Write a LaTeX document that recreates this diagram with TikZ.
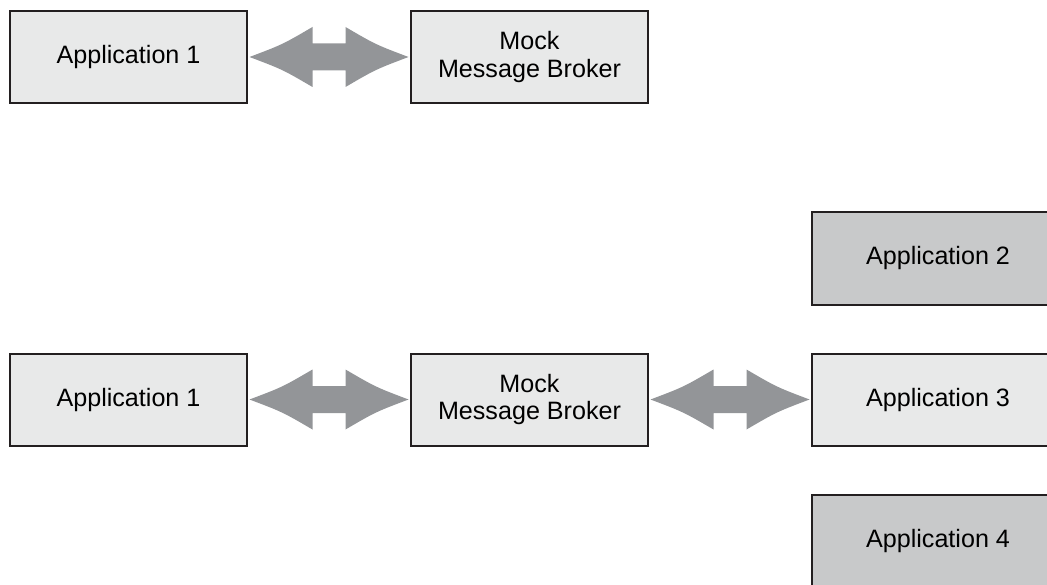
\documentclass[tikz,border=0pt]{standalone}
\usepackage{fontspec}
\setmainfont{Liberation Sans}
\usetikzlibrary{positioning, calc}
\definecolor{boxlight}{RGB}{232,233,233}
\definecolor{boxdark}{RGB}{200,201,202}
\definecolor{arrowgray}{RGB}{147,149,152}
\definecolor{edgeblack}{RGB}{35,31,32}

\begin{document}
\begin{tikzpicture}[
  node distance=0.88cm and 3.18cm,
  app/.style={draw=edgeblack, line width=0.04cm, fill=boxlight, outer sep=0.05cm,
    minimum width=4.74cm, minimum height=1.84cm, align=center,
    font=\fontsize{14.3}{15.6}\selectfont},
  appwide/.style={app, minimum width=5.04cm},
  appdark/.style={appwide, fill=boxdark},
  fatarrow/.style={fill=arrowgray, draw=none, to path={
    (\tikztostart)
    .. controls ($(\tikztostart)+(0.66,0.25)$) .. ($(\tikztostart)+(1.26,0.6)$)
    -- ($(\tikztostart)+(1.26,0.27)$)
    -- ($(\tikztotarget)+(-1.26,0.27)$)
    -- ($(\tikztotarget)+(-1.26,0.6)$)
    .. controls ($(\tikztotarget)+(-0.66,0.25)$) .. (\tikztotarget)
    .. controls ($(\tikztotarget)+(-0.66,-0.25)$) .. ($(\tikztotarget)+(-1.26,-0.6)$)
    -- ($(\tikztotarget)+(-1.26,-0.27)$)
    -- ($(\tikztostart)+(1.26,-0.27)$)
    -- ($(\tikztostart)+(1.26,-0.6)$)
    .. controls ($(\tikztostart)+(0.66,-0.25)$) .. (\tikztostart) -- cycle}}]
  \useasboundingbox (0,0) rectangle (20.94,-11.7);
  \clip (0,0) rectangle (20.94,-11.7);

  % single application against the mock
  \node[app] (a1) at (2.57,-1.14) {Application 1};
  \node[app, right=of a1] (mb) {Mock\\Message Broker};
  \path[fatarrow] (a1.east) to (mb.west);

  % several applications against the mock
  \node[app] (b1) at (2.57,-7.99) {Application 1};
  \node[app, right=of b1] (bm) {Mock\\Message Broker};
  \node[appwide, right=of bm] (b3) {Application 3};
  \node[appdark, above=of b3] (b2) {Application 2};
  \node[appdark, below=of b3] (b4) {Application 4};
  \path[fatarrow] (b1.east) to (bm.west);
  \path[fatarrow] (bm.east) to (b3.west);
\end{tikzpicture}
\end{document}
